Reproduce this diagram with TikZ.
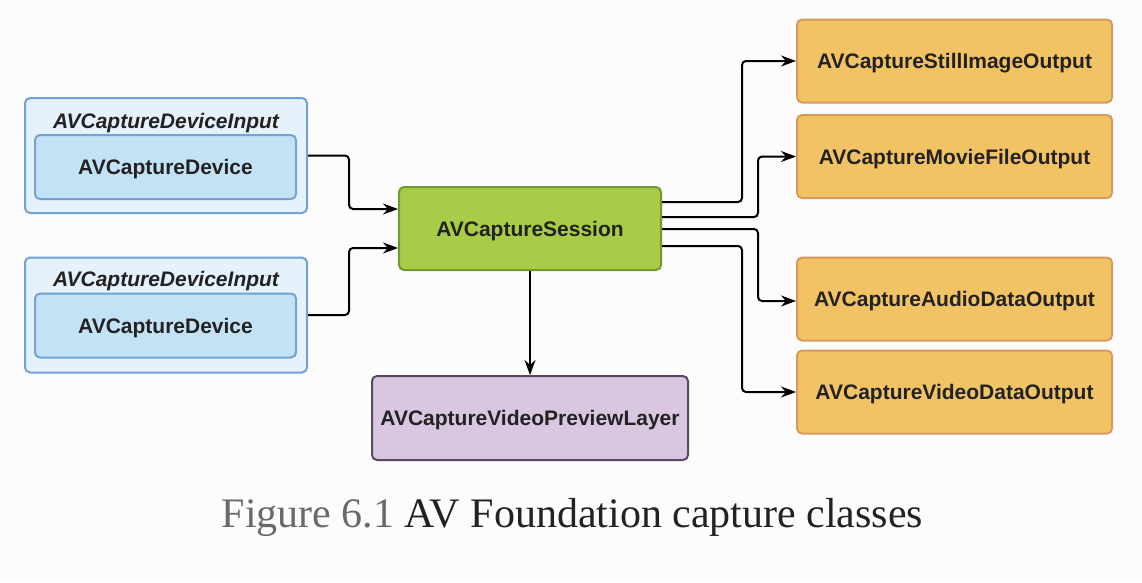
\documentclass[tikz,border=0pt]{standalone}
\usepackage{fontspec}
\setsansfont{Liberation Sans}
\setmainfont{Liberation Serif}
\usetikzlibrary{arrows.meta,calc}
\definecolor{bg}{HTML}{FCFCFC}
\definecolor{inoutfill}{HTML}{E5F1FB}
\definecolor{inoutdraw}{HTML}{72A2D6}
\definecolor{infill}{HTML}{C4E2F6}
\definecolor{sessfill}{HTML}{A9CC48}
\definecolor{sessdraw}{HTML}{6E9C30}
\definecolor{prevfill}{HTML}{D9C7E0}
\definecolor{prevdraw}{HTML}{5C4864}
\definecolor{outfill}{HTML}{F2C365}
\definecolor{outdraw}{HTML}{D89A5C}
\definecolor{txt}{HTML}{222222}
\definecolor{capgray}{HTML}{6A6A6A}
\tikzset{
  box/.style={rounded corners=5pt, line width=2pt, inner sep=0pt, text=txt, text depth=0pt,
    font=\sffamily\bfseries\fontsize{21}{24}\selectfont},
  devouter/.style={box, draw=inoutdraw, fill=inoutfill, minimum width=282pt, minimum height=115pt},
  devinner/.style={box, draw=inoutdraw, fill=infill, minimum width=261pt, minimum height=64pt},
  devtitle/.style={inner sep=0pt, text=txt, text depth=0pt, font=\sffamily\bfseries\itshape\fontsize{21}{24}\selectfont},
  sessbox/.style={box, draw=sessdraw, fill=sessfill, minimum width=262pt, minimum height=83pt},
  prevbox/.style={box, draw=prevdraw, fill=prevfill, minimum width=316pt, minimum height=84pt},
  outbox/.style={box, draw=outdraw, fill=outfill, minimum width=315pt, minimum height=83pt},
  arr/.style={line width=2pt, draw=black, rounded corners=4pt, -{Stealth[length=15pt,width=11pt]}},
}
\begin{document}
\begin{tikzpicture}[x=1pt,y=-1pt]
\fill[bg] (0,0) rectangle (1142,582);
\useasboundingbox (0,0) rectangle (1142,582);

\node[devouter] (in1) at (166,155.5) {};
\node[devtitle] (t1) at (166,120.5) {AVCaptureDeviceInput};
\node[devinner] (d1) at (165.5,167) {AVCaptureDevice};

\node[devouter] (in2) at (166,315) {};
\node[devtitle] (t2) at (166,278.5) {AVCaptureDeviceInput};
\node[devinner] (d2) at (165.5,325.5) {AVCaptureDevice};

\node[sessbox] (sess) at (530,228.5) {AVCaptureSession};
\node[prevbox] (prev) at (530,418) {AVCaptureVideoPreviewLayer};

\node[outbox] (still) at (954.5,61) {AVCaptureStillImageOutput};
\node[outbox] (movie) at (954.5,156.5) {AVCaptureMovieFileOutput};
\node[outbox] (audio) at (954.5,299) {AVCaptureAudioDataOutput};
\node[outbox] (video) at (954.5,392) {AVCaptureVideoDataOutput};

\draw[arr] (in1.east) -- ++(41,0) |- ($(sess.west)+(0,-19.5)$);
\draw[arr] (in2.east) -- ++(41,0) |- ($(sess.west)+(0,19.5)$);

\draw[arr] ($(sess.east)+(0,-26.5)$) -- ++(80,0) |- (still.west);
\draw[arr] ($(sess.east)+(0,-11.5)$) -- ++(96,0) |- (movie.west);
\draw[arr] ($(sess.east)+(0,0.5)$) -- ++(96,0) |- ($(audio.west)+(0,2)$);
\draw[arr] ($(sess.east)+(0,17.5)$) -- ++(80,0) |- (video.west);

\draw[arr, rounded corners=0pt] (sess.south) -- (prev.north);

\node[inner sep=0pt, anchor=base, font=\fontsize{42}{46}\selectfont] (cap) at (572.5,527)
  {\textcolor{capgray}{Figure 6.1} \textcolor{txt}{AV Foundation capture classes}};
\end{tikzpicture}
\end{document}
